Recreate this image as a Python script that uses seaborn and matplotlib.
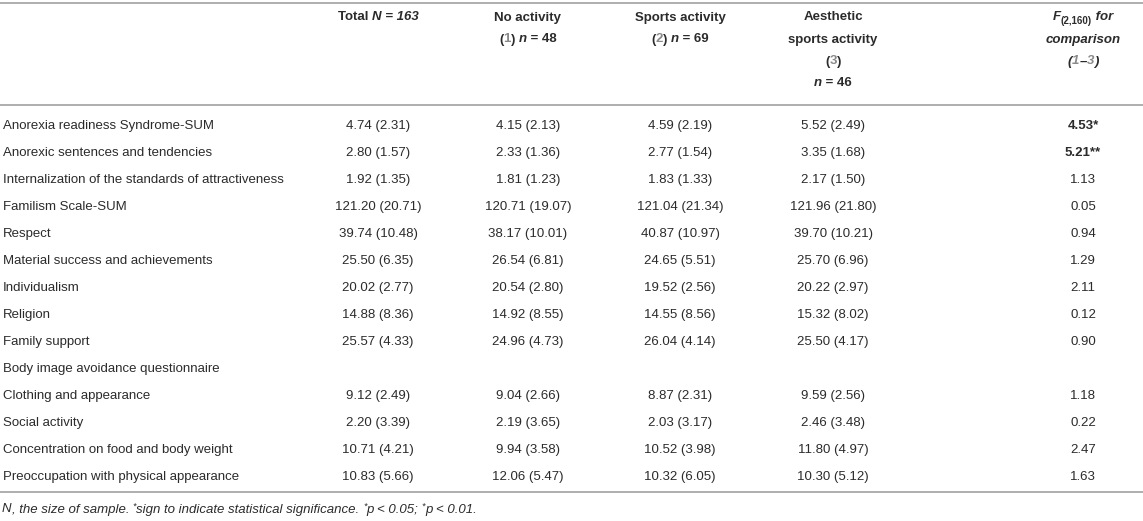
import numpy as np
import pandas as pd
import seaborn as sns
import matplotlib
matplotlib.use("Agg")
import matplotlib.pyplot as plt


labels = [
    "Anorexia readiness Syndrome-SUM",
    "Anorexic sentences and tendencies",
    "Internalization of the standards of attractiveness",
    "Familism Scale-SUM",
    "Respect",
    "Material success and achievements",
    "Individualism",
    "Religion",
    "Family support",
    "Body image avoidance questionnaire",
    "Clothing and appearance",
    "Social activity",
    "Concentration on food and body weight",
    "Preoccupation with physical appearance",
]

total_m = [4.74, 2.80, 1.92, 121.20, 39.74, 25.50, 20.02, 14.88, 25.57, None, 9.12, 2.20, 10.71, 10.83]
total_sd = [2.31, 1.57, 1.35, 20.71, 10.48, 6.35, 2.77, 8.36, 4.33, None, 2.49, 3.39, 4.21, 5.66]
noact_m = [4.15, 2.33, 1.81, 120.71, 38.17, 26.54, 20.54, 14.92, 24.96, None, 9.04, 2.19, 9.94, 12.06]
noact_sd = [2.13, 1.36, 1.23, 19.07, 10.01, 6.81, 2.80, 8.55, 4.73, None, 2.66, 3.65, 3.58, 5.47]
sport_m = [4.59, 2.77, 1.83, 121.04, 40.87, 24.65, 19.52, 14.55, 26.04, None, 8.87, 2.03, 10.52, 10.32]
sport_sd = [2.19, 1.54, 1.33, 21.34, 10.97, 5.51, 2.56, 8.56, 4.14, None, 2.31, 3.17, 3.98, 6.05]
aes_m = [5.52, 3.35, 2.17, 121.96, 39.70, 25.70, 20.22, 15.32, 25.50, None, 9.59, 2.46, 11.80, 10.30]
aes_sd = [2.49, 1.68, 1.50, 21.80, 10.21, 6.96, 2.97, 8.02, 4.17, None, 2.56, 3.48, 4.97, 5.12]
f_val = [4.53, 5.21, 1.13, 0.05, 0.94, 1.29, 2.11, 0.12, 0.90, None, 1.18, 0.22, 2.47, 1.63]
f_sig = ["*", "**", "", "", "", "", "", "", "", "", "", "", "", ""]

groups = [(total_m, total_sd), (noact_m, noact_sd), (sport_m, sport_sd), (aes_m, aes_sd)]

sns.set_theme(style="white")
plt.rcParams["font.family"] = ["Liberation Sans", "DejaVu Sans"]

TXT = "#2b2b2b"
GREY = "#8a8a8a"
LINE = "#a8a8a8"
FS = 9.5

W, H = 1143, 521
fig = plt.figure(figsize=(W / 100, H / 100), dpi=100)
ax = fig.add_axes([0, 0, 1, 1])
ax.set_xlim(0, W)
ax.set_ylim(H, 0)
ax.axis("off")
renderer = fig.canvas.get_renderer()

# layout
col_x = [378, 528, 680, 833, 1083]
row_y0, row_dy = 126, 27.0
head_y = [16, 38, 60, 82]


def rich(x, y, pieces, ha="center"):
    # pieces: (text, weight, style, color, size, dy)
    texts = []
    for s, wgt, sty, col, size, dy in pieces:
        t = ax.text(0, y + 4.5 + dy, s, fontsize=size, fontweight=wgt,
                    fontstyle=sty, color=col, ha="left", va="baseline")
        texts.append(t)
    widths = [t.get_window_extent(renderer).width for t in texts]
    cur = x - sum(widths) / 2 if ha == "center" else x
    for t, w in zip(texts, widths):
        t.set_x(cur)
        cur += w


def B(s, col=TXT):
    return (s, "bold", "normal", col, FS, 0)


def BI(s, col=TXT):
    return (s, "bold", "italic", col, FS, 0)


# header
rich(col_x[0], head_y[0], [B("Total "), BI("N = 163")])
rich(col_x[1], head_y[0], [B("No activity")])
rich(col_x[1], head_y[1], [B("("), B("1", GREY), B(") "), BI("n"), B(" = 48")])
rich(col_x[2], head_y[0], [B("Sports activity")])
rich(col_x[2], head_y[1], [B("("), B("2", GREY), B(") "), BI("n"), B(" = 69")])
rich(col_x[3], head_y[0], [B("Aesthetic")])
rich(col_x[3], head_y[1], [B("sports activity")])
rich(col_x[3], head_y[2], [B("("), B("3", GREY), B(")")])
rich(col_x[3], head_y[3], [BI("n"), B(" = 46")])
rich(col_x[4], head_y[0], [BI("F"), ("(2,160)", "bold", "normal", TXT, 7.0, 3), BI(" for")])
rich(col_x[4], head_y[1], [BI("comparison")])
rich(col_x[4], head_y[2], [BI("("), BI("1", GREY), BI("–"), BI("3", GREY), BI(")")])

# body
for i, lab in enumerate(labels):
    y = row_y0 + i * row_dy
    ax.text(3, y, lab, fontsize=FS, color=TXT, ha="left", va="center")
    if f_val[i] is None:
        continue
    for (m, sd), x in zip(groups, col_x[:4]):
        ax.text(x, y, f"{m[i]:.2f} ({sd[i]:.2f})", fontsize=FS, color=TXT,
                ha="center", va="center")
    wgt = "bold" if f_sig[i] else "normal"
    ax.text(col_x[4], y, f"{f_val[i]:.2f}{f_sig[i]}", fontsize=FS, color=TXT,
            fontweight=wgt, ha="center", va="center")

# rules
for yl in [3, 105, 492]:
    ax.axhline(yl, color=LINE, lw=1.3)

# footnote
foot_y = 508
SUP = -4
rich(2, foot_y, [
    ("N", "normal", "italic", TXT, FS, 0),
    (", the size of sample. ", "normal", "italic", TXT, FS, 0),
    ("*", "normal", "italic", TXT, 6.5, SUP),
    ("sign to indicate statistical significance. ", "normal", "italic", TXT, FS, 0),
    ("*", "normal", "italic", TXT, 6.5, SUP),
    ("p < 0.05; ", "normal", "italic", TXT, FS, 0),
    ("*", "normal", "italic", TXT, 6.5, SUP),
    ("p < 0.01.", "normal", "italic", TXT, FS, 0),
], ha="left")

fig.savefig("out.png", dpi=100)
